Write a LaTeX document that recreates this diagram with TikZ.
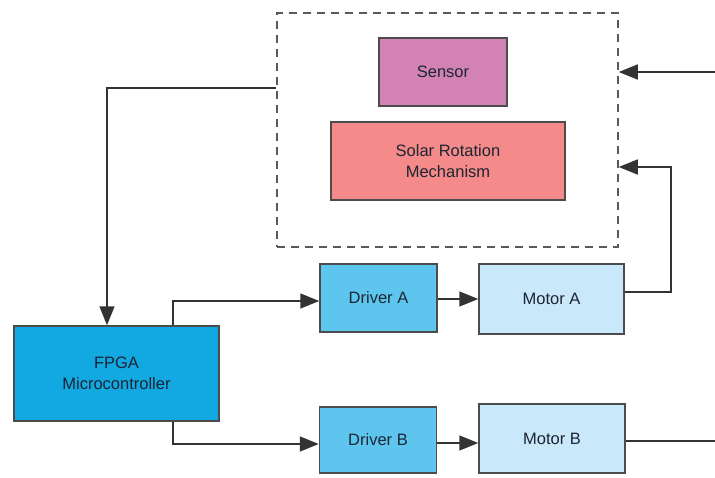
\documentclass[tikz,border=0pt]{standalone}
\usepackage{fontspec}
\setmainfont{Liberation Sans}
\usetikzlibrary{arrows.meta}
\definecolor{sensorc}{HTML}{D282B4}
\definecolor{solarc}{HTML}{F58A8A}
\definecolor{fpgac}{HTML}{12A9E2}
\definecolor{driverc}{HTML}{5EC6EE}
\definecolor{motorc}{HTML}{C9E8F9}
\definecolor{linec}{HTML}{333333}
\definecolor{textc}{HTML}{1C2533}
\tikzset{
  blk/.style={draw=black!70, line width=1.5pt, rectangle, inner sep=0pt, align=center,
    text=textc, font=\fontsize{16.5}{21}\selectfont},
  grpbox/.style={draw=black!65, line width=1.5pt, dash pattern=on 8pt off 6pt, rectangle, inner sep=0pt},
  arr/.style={draw=linec, line width=1.5pt, -{Triangle[length=19pt,width=15pt]}},
  ln/.style={draw=linec, line width=1.5pt}
}
\begin{document}
\begin{tikzpicture}[x=1pt,y=-1pt]
\useasboundingbox (0,0) rectangle (715,477);
\fill[white] (0,0) rectangle (715,477);
\node[grpbox, minimum width=341pt, minimum height=234pt] (grp) at (447.5,130) {};
\node[blk, fill=sensorc, minimum width=128pt, minimum height=68pt] (sensor) at (443,72) {Sensor};
\node[blk, fill=solarc, minimum width=234pt, minimum height=78pt] (solar) at (448,161) {Solar Rotation\\Mechanism};
\node[blk, fill=fpgac, minimum width=205pt, minimum height=95pt] (fpga) at (116.5,373.5) {FPGA\\Microcontroller};
\node[blk, fill=driverc, minimum width=117pt, minimum height=68pt] (drva) at (378.5,298) {Driver A};
\node[blk, fill=motorc, minimum width=145pt, minimum height=70pt] (mota) at (551.5,299) {Motor A};
\node[blk, fill=driverc, minimum width=117pt, minimum height=66pt] (drvb) at (378,440) {Driver B};
\node[blk, fill=motorc, minimum width=146pt, minimum height=69pt] (motb) at (552,438.5) {Motor B};
\coordinate (vA) at (671,167);
\coordinate (vB) at (722,72);
% sensor group to FPGA
\draw[arr] ([yshift=42pt]grp.west) -| ([xshift=-9.5pt]fpga.north);
% FPGA to drivers
\draw[arr] ([xshift=56.5pt]fpga.north) |- ([yshift=-3pt]drva.west);
\draw[arr] ([xshift=56.5pt]fpga.south) |- ([yshift=-4pt]drvb.west);
% drivers to motors
\draw[arr] ([yshift=-1pt]drva.east) -- ([yshift=-1pt]drva.east -| mota.west);
\draw[arr] ([yshift=-3pt]drvb.east) -- ([yshift=-3pt]drvb.east -| motb.west);
% motors back to group
\draw[arr] ([yshift=7pt]mota.east) -| (vA) -- (vA -| grp.east);
\draw[arr] ([yshift=-2.5pt]motb.east) -| (vB) -- (vB -| grp.east);
\end{tikzpicture}
\end{document}
